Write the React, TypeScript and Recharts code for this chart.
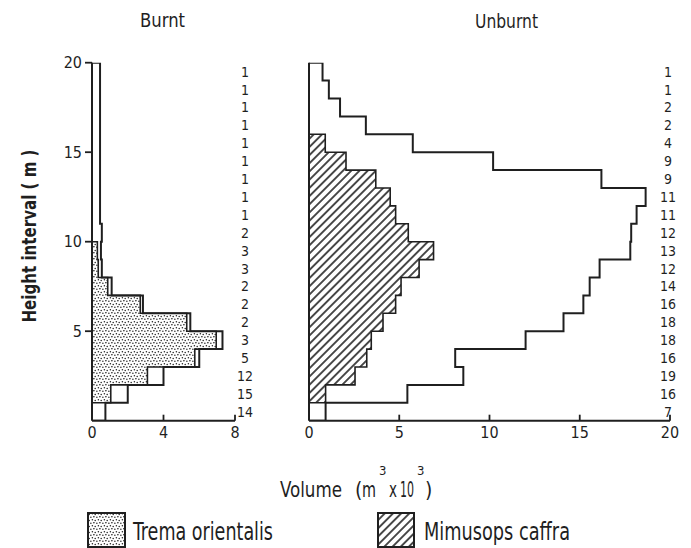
import React from 'react';
import { ComposedChart, Area, Line, XAxis, YAxis } from 'recharts';

const INK = '#1f1f1f';
const FONT = "'DejaVu Sans Condensed', 'Liberation Sans Narrow', 'DejaVu Sans', sans-serif";

// lower edge of each 1 m height interval
const heightBins = [0, 1, 2, 3, 4, 5, 6, 7, 8, 9, 10, 11, 12, 13, 14, 15, 16, 17, 18, 19];

// volume (m3 x 10^3) per interval, bottom -> top
const burntTotal = [0.75, 2.0, 4.0, 6.0, 7.3, 5.5, 2.85, 1.1, 0.55, 0.5, 0.55, 0.45, 0.45, 0.45, 0.45, 0.45, 0.45, 0.45, 0.45, 0.45];
const burntTrema = [0, 1.05, 3.1, 5.75, 6.95, 5.3, 2.7, 0.88, 0.35, 0.3, 0, 0, 0, 0, 0, 0, 0, 0, 0, 0];
const burntCounts = [14, 15, 12, 5, 3, 2, 2, 2, 3, 3, 2, 1, 1, 1, 1, 1, 1, 1, 1, 1];

const unburntTotal = [0.92, 5.45, 8.55, 8.1, 12.0, 14.1, 15.2, 15.55, 16.1, 17.8, 17.85, 18.15, 18.65, 16.2, 10.2, 5.75, 3.15, 1.72, 1.1, 0.75];
const unburntMimusops = [0, 0.92, 2.55, 3.2, 3.45, 4.1, 4.8, 5.1, 6.1, 6.9, 5.5, 4.8, 4.5, 3.7, 2.05, 0.9, 0, 0, 0, 0];
const unburntCounts = [7, 16, 19, 16, 18, 18, 16, 14, 12, 13, 12, 11, 11, 9, 9, 4, 2, 2, 1, 1];

const burntTicks = [0, 4, 8];
const unburntTicks = [0, 5, 10, 15, 20];
const heightTicks = [5, 10, 15, 20];

const stepRows = (total: number[], part: number[]) => [
  { h: 0, total: 0, part: 0 },
  ...heightBins.map((h, i) => ({ h, total: total[i], part: part[i] })),
  { h: heightBins.length, total: 0, part: 0 },
];

const Patterns = ({ p }: { p: string }) => (
  <defs>
    <pattern id={`${p}-dots`} width={6} height={6} patternUnits="userSpaceOnUse">
      <rect width={6} height={6} fill="#fff" />
      <circle cx={0.9} cy={1.2} r={0.75} fill={INK} />
      <circle cx={3.9} cy={0.7} r={0.75} fill={INK} />
      <circle cx={2.4} cy={3.7} r={0.75} fill={INK} />
      <circle cx={5.2} cy={4.4} r={0.75} fill={INK} />
    </pattern>
    <pattern id={`${p}-hatch`} width={5.8} height={5.8} patternUnits="userSpaceOnUse" patternTransform="rotate(45)">
      <rect width={5.8} height={5.8} fill="#fff" />
      <line x1={2.9} y1={0} x2={2.9} y2={5.8} stroke={INK} strokeWidth={1.6} />
    </pattern>
  </defs>
);

const BottomTick = (props: any) => {
  const { x, y, payload } = props;
  return (
    <g>
      {payload.value !== 0 && <line x1={x} x2={x} y1={y} y2={y - 6} stroke={INK} strokeWidth={1.8} />}
      <text x={x} y={y + 17} textAnchor="middle" fontSize={16} fontFamily={FONT} fill={INK}>
        {payload.value}
      </text>
    </g>
  );
};

const CountTick = (props: any) => {
  const { x, y, payload, counts, dx } = props;
  return (
    <text x={x + dx} y={y} dy="0.36em" textAnchor="middle" fontSize={14} fontFamily={FONT} fill={INK}>
      {counts[Math.floor(payload.value)]}
    </text>
  );
};

const Panel = (props: any) => {
  const { id, left, width, leftW, rightW, marginRight, xMax, xTicks, total, part, counts, countDx, fill, heightAxis } = props;
  const rows = stepRows(total, part);
  return (
    <div style={{ position: 'absolute', left, top: 0 }}>
      <ComposedChart
        width={width}
        height={450}
        data={rows}
        layout="vertical"
        margin={{ top: 62.7, right: marginRight, bottom: 4.3, left: 0 }}
      >
        <Patterns p={id} />
        <XAxis
          type="number"
          domain={[0, xMax]}
          ticks={xTicks}
          interval={0}
          allowDataOverflow
          height={25}
          tickSize={0}
          tickMargin={0}
          tickLine={false}
          axisLine={{ stroke: INK, strokeWidth: 2 }}
          tick={<BottomTick />}
        />
        <YAxis
          yAxisId="ht"
          type="number"
          dataKey="h"
          domain={[0, 20]}
          reversed
          allowDataOverflow
          width={leftW}
          ticks={heightAxis ? heightTicks : []}
          interval={0}
          tick={heightAxis ? { fill: INK, fontSize: 16, fontFamily: FONT } : false}
          tickSize={7}
          tickMargin={3}
          tickLine={heightAxis ? { stroke: INK, strokeWidth: 1.8 } : false}
          axisLine={{ stroke: INK, strokeWidth: 2 }}
        />
        <YAxis
          yAxisId="cnt"
          orientation="right"
          type="number"
          dataKey="h"
          domain={[0, 20]}
          reversed
          allowDataOverflow
          width={rightW}
          ticks={heightBins.map((h) => h + 0.5)}
          interval={0}
          tickSize={0}
          tickMargin={0}
          tickLine={false}
          axisLine={false}
          tick={(p: any) => <CountTick {...p} counts={counts} dx={countDx} />}
        />
        <Area
          yAxisId="ht"
          dataKey="part"
          type="stepBefore"
          fill={`url(#${id}-${fill})`}
          fillOpacity={1}
          stroke={INK}
          strokeWidth={1.6}
          dot={false}
          activeDot={false}
          isAnimationActive={false}
        />
        <Line
          yAxisId="ht"
          dataKey="total"
          type="stepBefore"
          stroke={INK}
          strokeWidth={2}
          dot={false}
          activeDot={false}
          isAnimationActive={false}
        />
      </ComposedChart>
    </div>
  );
};

export default function App() {
  return (
    <div style={{ position: 'absolute', left: 0, top: 0, width: 691, height: 548, background: '#fff', overflow: 'hidden' }}>
      <Panel
        id="burnt"
        left={0}
        width={270}
        leftW={92}
        rightW={30}
        marginRight={5}
        xMax={8}
        xTicks={burntTicks}
        total={burntTotal}
        part={burntTrema}
        counts={burntCounts}
        countDx={10}
        fill="dots"
        heightAxis
      />
      <Panel
        id="unburnt"
        left={280}
        width={411}
        leftW={29}
        rightW={16}
        marginRight={5}
        xMax={20}
        xTicks={unburntTicks}
        total={unburntTotal}
        part={unburntMimusops}
        counts={unburntCounts}
        countDx={-2}
        fill="hatch"
        heightAxis={false}
      />
      <svg width={691} height={548} style={{ position: 'absolute', left: 0, top: 0, pointerEvents: 'none' }}>
        <Patterns p="legend" />
        <g fontFamily={FONT} fill={INK}>
          <text x={140} y={27} fontSize={20} textLength={45} lengthAdjust="spacingAndGlyphs">Burnt</text>
          <text x={475} y={28} fontSize={20} textLength={63} lengthAdjust="spacingAndGlyphs">Unburnt</text>
          <text
            transform="translate(36,236) rotate(-90)"
            textAnchor="middle"
            fontSize={20}
            fontWeight="bold"
            textLength={173}
            lengthAdjust="spacingAndGlyphs"
          >
            Height interval ( m )
          </text>
          <text y={497} fontSize={21}>
            <tspan x={280} textLength={62} lengthAdjust="spacingAndGlyphs">Volume</tspan>
            <tspan x={355}>(</tspan>
            <tspan x={362} textLength={14} lengthAdjust="spacingAndGlyphs">m</tspan>
            <tspan x={379} y={475} fontSize={13}>3</tspan>
            <tspan x={389} y={497} textLength={8} lengthAdjust="spacingAndGlyphs">x</tspan>
            <tspan x={400} textLength={14} lengthAdjust="spacingAndGlyphs">10</tspan>
            <tspan x={417} y={475} fontSize={13}>3</tspan>
            <tspan x={425} y={497}>)</tspan>
          </text>
          <rect x={88} y={513} width={37} height={34} fill="url(#legend-dots)" stroke={INK} strokeWidth={2} />
          <text x={133} y={540} fontSize={24} textLength={140} lengthAdjust="spacingAndGlyphs">Trema  orientalis</text>
          <rect x={378} y={513} width={36} height={34} fill="url(#legend-hatch)" stroke={INK} strokeWidth={2} />
          <text x={424} y={540} fontSize={24} textLength={146} lengthAdjust="spacingAndGlyphs">Mimusops  caffra</text>
        </g>
      </svg>
    </div>
  );
}
